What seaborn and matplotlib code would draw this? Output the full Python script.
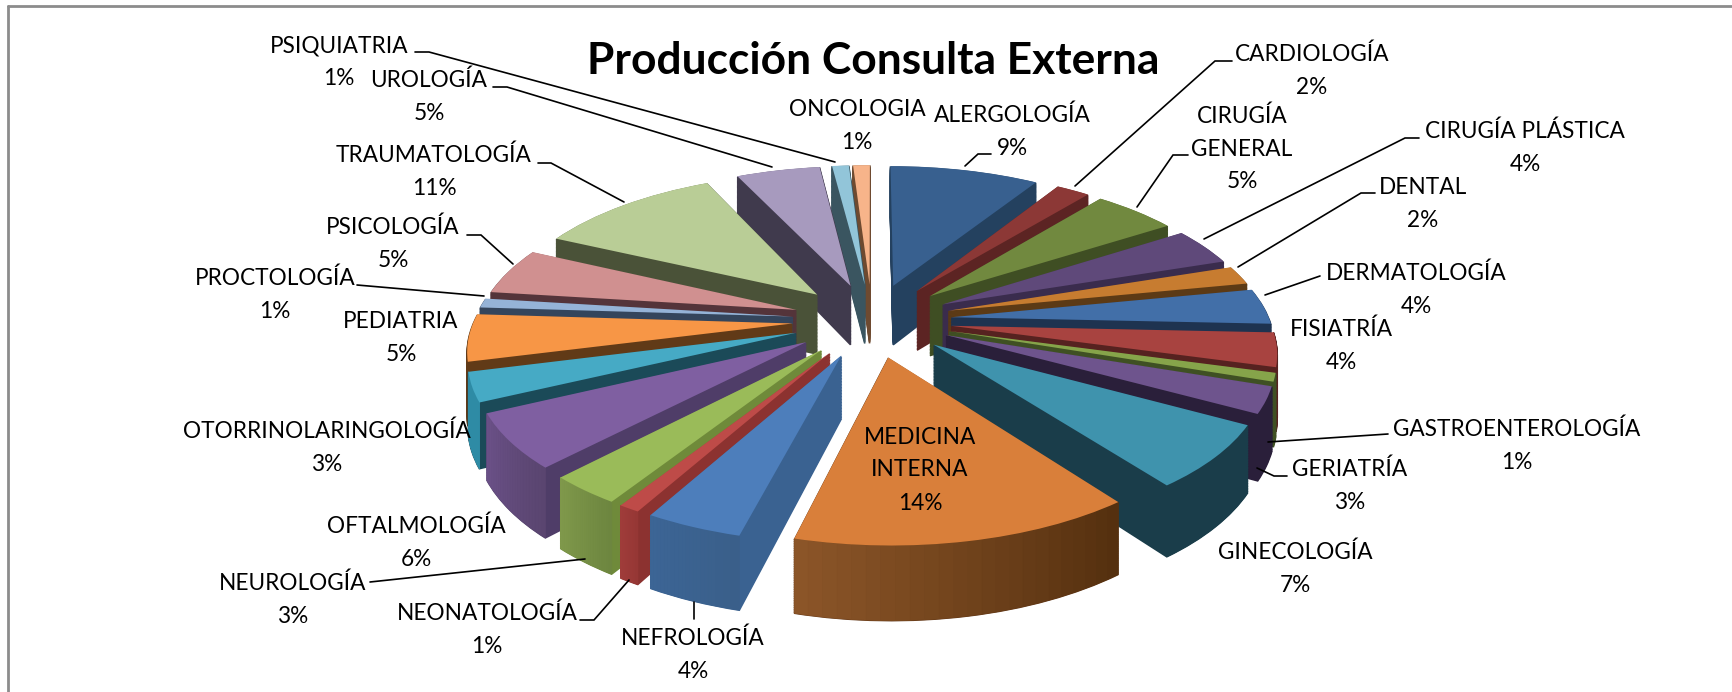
# plot.py
import numpy as np
import matplotlib
matplotlib.use('Agg')
import matplotlib.pyplot as plt
from matplotlib.colors import to_rgb
from matplotlib.transforms import Transform
import seaborn as sns

sns.set_theme(style='white')
plt.rcParams['font.family'] = ['Lato', 'DejaVu Sans']

# Data
areas = ['ALERGOLOGÍA', 'CARDIOLOGÍA', 'CIRUGÍA\nGENERAL', 'CIRUGÍA PLÁSTICA', 'DENTAL',
         'DERMATOLOGÍA', 'FISIATRÍA', 'GASTROENTEROLOGÍA', 'GERIATRÍA', 'GINECOLOGÍA',
         'MEDICINA\nINTERNA', 'NEFROLOGÍA', 'NEONATOLOGÍA', 'NEUROLOGÍA', 'OFTALMOLOGÍA',
         'OTORRINOLARINGOLOGÍA', 'PEDIATRIA', 'PROCTOLOGÍA', 'PSICOLOGÍA', 'TRAUMATOLOGÍA',
         'UROLOGÍA', 'PSIQUIATRIA', 'ONCOLOGIA']
percent = [8.9, 2.0, 5.0, 4.0, 2.0, 3.8, 3.6, 0.9, 2.8, 6.7, 14.3, 4.1, 0.9, 3.1, 5.8, 3.1, 5.0, 1.0,
           5.0, 11.0, 5.0, 1.0, 1.0]

# Colours
top_colors = ['#38608F', '#8C3836', '#71893F', '#5F497A', '#C77C30', '#426FA8', '#A84340', '#86A44A',
              '#6E548D', '#3F93AD', '#D97F3A', '#4D7EBB', '#BE4B48', '#9ABB59', '#7F5FA1', '#46AAC5',
              '#F79646', '#95B3D7', '#D09090', '#B9CD96', '#A79ABE', '#92C5D9', '#F7B48A']
wall_colors = ['#24415F', '#5C2423', '#3F4E23', '#3A2C4D', '#5C3A15', '#1E3350', '#562220', '#3F5023',
               '#2A1F3A', '#1A3D4A', '#5F3415', '#3A6291', '#8C3230', '#6F8A3A', '#4F3D68', '#1B4A58',
               '#613A17', '#34455C', '#54343A', '#4A5238', '#403A4D', '#3A5560', '#6E4A30']
rim_colors = {6: ('#562220', '#562220'), 9: ('#1A3D4A', '#1A3D4A'), 10: ('#8B5528', '#55300F'),
              11: ('#3C6595', '#3A5F8A'), 12: ('#A03C3A', '#963735'), 13: ('#80994B', '#6D8640'),
              14: ('#6B5188', '#5A4570'), 15: ('#2E8BA5', '#2E8BA5')}

# Label layout in pixels
label_pos = [(1012, 132), (1312, 71), (1242, 149), (1525, 148), (1423, 204), (1416, 290), (1341, 346),
             (1517, 446), (1350, 486), (1295, 569), (920, 470), (693, 655), (487, 630), (293, 600),
             (416, 543), (327, 448), (401, 338), (275, 295), (393, 244), (434, 172), (429, 97),
             (339, 62), (857, 126)]
line_gap = 33
leaders = [[(415, 52), (429, 52), (835, 162)], [(493, 87), (507, 87), (772, 167)],
           [(538, 163), (551, 163), (624, 202)], [(467, 235), (481, 235), (513, 264)],
           [(357, 285), (484, 296)], [(370, 582), (585, 559)], [(580, 620), (594, 620), (629, 580)],
           [(694, 602), (694, 619)], [(1287, 476), (1274, 476), (1257, 468)], [(1388, 434), (1268, 442)],
           [(1320, 276), (1265, 295)], [(1375, 193), (1361, 193), (1238, 267)],
           [(1419, 138), (1405, 138), (1204, 239)], [(1188, 155), (1173, 155), (1137, 207)],
           [(1232, 61), (1215, 61), (1075, 186)], [(991, 154), (978, 154), (965, 166)]]

# Perspective of the tilted pie
explode_frac = 0.25
outer = 1 + explode_frac
cx, cy = 872, 320
rx, ry = 398, 184
tilt = 0.188
depth = 61


def project(x, y, z):
    xn, yn = np.asarray(x) / outer, np.asarray(y) / outer
    w = 1 + tilt * yn
    return cx + rx * xn / w, cy - ry * yn / w + z * depth / w


class PieProjection(Transform):
    input_dims = 2
    output_dims = 2
    is_affine = False

    def __init__(self, z):
        super().__init__()
        self.z = z

    def transform_non_affine(self, values):
        values = np.asarray(values)
        return np.column_stack(project(values[:, 0], values[:, 1], self.z))


def draw_layer(ax, colors, z, order, base):
    wedges, _ = ax.pie(percent, explode=[explode_frac] * len(percent), startangle=90, counterclock=False,
                       colors=colors, radius=1)
    for i, wedge in enumerate(wedges):
        wedge.set_transform(PieProjection(z) + ax.transData)
        wedge.set_zorder(order[i] * 10 + base)
        wedge.set_linewidth(1.2 if z > 0 else 0)
        wedge.set_edgecolor(colors[i])
    return wedges


fig = plt.figure(figsize=(17.32, 6.92), dpi=100, facecolor='white')
ax = fig.add_axes([0, 0, 1, 1])

# Far slices get painted first
shares = np.cumsum(percent) - np.array(percent) / 2
mid_y = np.cos(shares / sum(percent) * 2 * np.pi)
order = np.empty(len(percent), dtype=int)
order[np.argsort(-mid_y)] = np.arange(len(percent))

# Walls as a stack of slices, top face last
for z in np.linspace(1, 0.02, 42):
    draw_layer(ax, wall_colors, z, order, 1 + (1 - z) * 3)
top = draw_layer(ax, top_colors, 0, order, 9)

# Outer rim with a shaded band, follows each slice arc
for i, wedge in enumerate(top):
    if i not in rim_colors:
        continue
    left, right = [np.array(to_rgb(c)) for c in rim_colors[i]]
    angles = np.radians(np.linspace(wedge.theta1, wedge.theta2, 25))
    xs = wedge.center[0] + wedge.r * np.cos(angles)
    ys = wedge.center[1] + wedge.r * np.sin(angles)
    for j in range(len(angles) - 1):
        x0, y0 = project(xs[j:j + 2], ys[j:j + 2], 0)
        x1, y1 = project(xs[j:j + 2], ys[j:j + 2], 1)
        col = left + (right - left) * j / (len(angles) - 2)
        ax.fill(np.r_[x0, x1[::-1]], np.r_[y0, y1[::-1]], color=col, lw=0.6, zorder=order[i] * 10 + 6)

ax.set_aspect('auto')
ax.set_xlim(0, 1732)
ax.set_ylim(692, 0)
ax.axis('off')

# Leader lines
for pts in leaders:
    ax.plot([p[0] for p in pts], [p[1] for p in pts], color='black', lw=1.2, zorder=400, solid_joinstyle='miter')

# Labels, one text per line so neighbouring labels can interlock
for name, pct, pos in zip(areas, percent, label_pos):
    lines = f'{name}\n{pct:.0f}%'.split('\n')
    for k, line in enumerate(lines):
        ax.text(pos[0], pos[1] + (k - (len(lines) - 1) / 2) * line_gap, line, ha='center', va='center',
                fontsize=16.3, color='black', zorder=500)

ax.text(873, 61, 'Producción Consulta Externa', ha='center', va='center', fontsize=31.9,
        fontweight='bold', color='black', zorder=500)

# Chart frame
ax.plot([8, 8], [692, 6], color='#8C8C8C', lw=2, zorder=1)
ax.plot([8, 1732], [6, 6], color='#8C8C8C', lw=2, zorder=1)

fig.savefig('out.png', dpi=100)
